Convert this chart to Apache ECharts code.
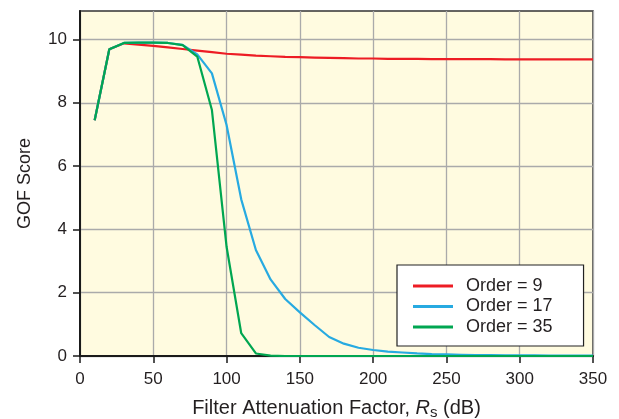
<!DOCTYPE html>
<html>
<head>
<meta charset="utf-8">
<script src="https://cdn.jsdelivr.net/npm/echarts@6/dist/echarts.min.js"></script>
<style>
html,body{margin:0;padding:0;background:#fff;}
#c{width:619px;height:419px;}
</style>
</head>
<body>
<div id="c"></div>
<script>
var xValues = [10,20,30,40,50,60,70,80,90,100,110,120,130,140,150,160,170,180,190,200,210,220,230,240,250,260,270,280,290,300,310,320,330,340,350];
var order9 = [7.45,9.69,9.88,9.84,9.80,9.75,9.70,9.65,9.60,9.55,9.52,9.49,9.47,9.45,9.44,9.43,9.42,9.41,9.40,9.40,9.39,9.39,9.39,9.38,9.38,9.38,9.38,9.38,9.37,9.37,9.37,9.37,9.37,9.37,9.37];
var order17 = [7.45,9.69,9.89,9.90,9.90,9.89,9.83,9.53,8.93,7.30,4.95,3.35,2.42,1.80,1.38,0.98,0.60,0.39,0.26,0.19,0.14,0.11,0.08,0.06,0.05,0.04,0.03,0.03,0.02,0.02,0.02,0.01,0.01,0.01,0.01];
var order35 = [7.45,9.69,9.89,9.90,9.90,9.89,9.82,9.46,7.77,3.45,0.72,0.08,0.01,0,0,0,0,0,0,0,0,0,0,0,0,0,0,0,0,0,0,0,0,0,0];
var xTicks = [0,50,100,150,200,250,300,350];
var yTicks = [0,2,4,6,8,10];
var seriesNames = ['Order = 9','Order = 17','Order = 35'];

function pairs(ys){ return xValues.map(function(x,i){ return [x, ys[i]]; }); }

var FONT = '"Liberation Sans", Arial, Helvetica, sans-serif';
var TXT = '#231f20';
var chart = echarts.init(document.getElementById('c'), null, {renderer:'canvas'});
chart.setOption({
  animation: false,
  backgroundColor: '#ffffff',
  textStyle: {fontFamily: FONT, color: TXT},
  grid: {left: 80, right: 26, top: 11, bottom: 63, containLabel: false, outerBoundsMode: 'none', show: true, backgroundColor: '#fffbe0', borderColor: '#333333', borderWidth: 1.5},
  xAxis: {
    type: 'value', min: 0, max: 350, interval: 50,
    axisLine: {show: true, onZero: false, lineStyle: {color: '#1a1a1a', width: 2}},
    axisTick: {show: true, inside: false, length: 7, lineStyle: {color: '#1a1a1a', width: 1.5}, customValues: xTicks},
    axisLabel: {fontSize: 17, color: TXT, margin: 15, fontFamily: FONT, customValues: xTicks},
    splitLine: {show: true, lineStyle: {color: '#aaaaaa', width: 1.3}},
    name: '{n|Filter Attenuation Factor, }{i|R}{s|s}{n| (dB)}',
    nameLocation: 'middle', nameGap: 40,
    nameTextStyle: {
      rich: {
        n: {fontSize: 20, fontFamily: FONT, color: TXT},
        i: {fontSize: 20, fontFamily: FONT, fontStyle: 'italic', color: TXT},
        s: {fontSize: 15, fontFamily: FONT, color: TXT, verticalAlign: 'bottom', padding: [9,0,0,0]}
      }
    }
  },
  yAxis: {
    type: 'value', min: 0, max: 10.9,
    axisLine: {show: true, onZero: false, lineStyle: {color: '#1a1a1a', width: 2}},
    axisTick: {show: true, inside: false, length: 7, lineStyle: {color: '#1a1a1a', width: 1.5}, customValues: yTicks},
    axisLabel: {fontSize: 17, color: TXT, margin: 13, fontFamily: FONT, customValues: yTicks},
    splitLine: {show: true, lineStyle: {color: '#aaaaaa', width: 1.3}},
    name: 'GOF Score', nameLocation: 'middle', nameGap: 46,
    nameTextStyle: {fontSize: 18, color: TXT, fontFamily: FONT}
  },
  legend: {
    show: true, orient: 'vertical', left: 397, top: 265,
    data: seriesNames,
    backgroundColor: '#ffffff', borderColor: '#222222', borderWidth: 1.2,
    padding: [12, 31, 10, 16], itemGap: 2.5,
    icon: 'rect', itemWidth: 40, itemHeight: 3,
    textStyle: {fontSize: 18, color: TXT, fontFamily: FONT, padding: [0,0,0,8]}
  },
  series: [
    {name: seriesNames[0], type: 'line', data: pairs(order9), showSymbol: false, lineStyle: {color: '#ed1c24', width: 2.2}, itemStyle: {color: '#ed1c24'}, z: 3},
    {name: seriesNames[1], type: 'line', data: pairs(order17), showSymbol: false, lineStyle: {color: '#27aae1', width: 2.2}, itemStyle: {color: '#27aae1'}, z: 4},
    {name: seriesNames[2], type: 'line', data: pairs(order35), showSymbol: false, lineStyle: {color: '#00a651', width: 2.2}, itemStyle: {color: '#00a651'}, z: 5}
  ]
});
</script>
</body>
</html>
